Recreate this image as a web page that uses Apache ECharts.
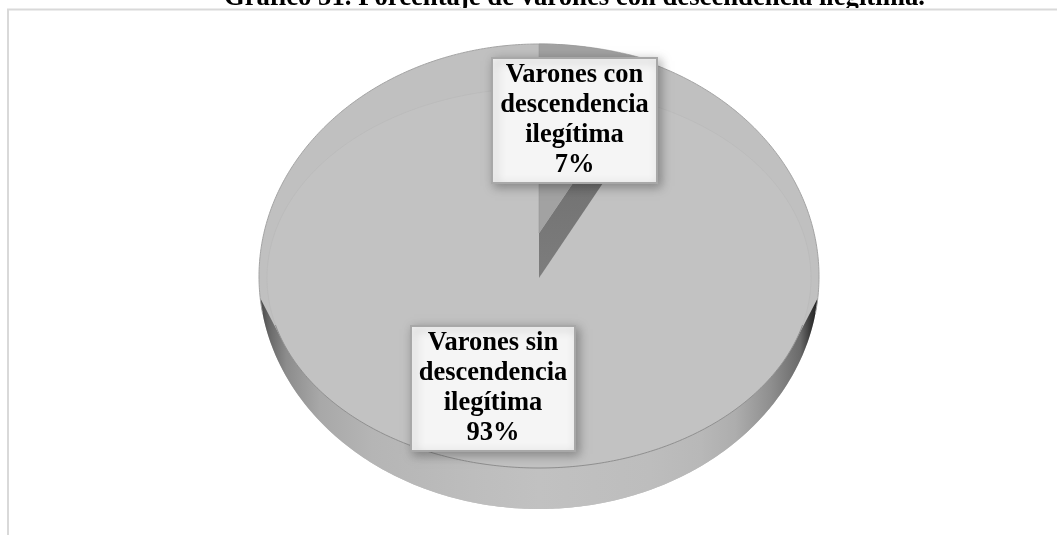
<!DOCTYPE html>
<html><head><meta charset="utf-8">
<style>html,body{margin:0;padding:0;background:#fff}#c{width:1057px;height:535px}</style>
<script src="https://cdn.jsdelivr.net/npm/echarts@6/dist/echarts.min.js"></script>
</head><body><div id="c"></div>
<script>
const chartTitle = 'Gráfico 51. Porcentaje de varones con descendencia ilegítima.';
const categories = ['Varones con\ndescendencia\nilegítima', 'Varones sin\ndescendencia\nilegítima'];
const shares = [7, 93];

const total = shares.reduce((a, b) => a + b, 0);
const endAngle = 2 * Math.PI * shares[0] / total;
const CX = 539;
const outer = {cy: 276.5, rx: 280, ry: 232.5};
const inner = {cy: 278, rx: 272, ry: 190};
const lifted = {cy: 233, rx: 272, ry: 189};
const labelBoxes = [{x: 492, y: 58, w: 165, h: 125}, {x: 411, y: 326, w: 164, h: 125}];

const pt = (e, t) => [CX + e.rx * Math.sin(t), e.cy - e.ry * Math.cos(t)];
function arc(e, a, b) {
  const n = Math.max(2, Math.ceil(Math.abs(b - a) * 90)), out = [];
  for (let i = 0; i <= n; i++) out.push(pt(e, a + (b - a) * i / n));
  return out;
}
const tAtY = (e, y) => Math.acos((e.cy - y) / e.ry);

function wall() {
  const a = tAtY(inner, 340), b = 2 * Math.PI - a;
  const a2 = tAtY(outer, 298), b2 = 2 * Math.PI - a2;
  return {
    type: 'polygon', silent: true,
    shape: {points: arc(inner, a, b).concat(arc(outer, b2, a2))},
    style: {fill: new echarts.graphic.LinearGradient(0, 0, 1, 0, [
      {offset: 0, color: '#484848'}, {offset: 0.016, color: '#686868'}, {offset: 0.047, color: '#8c8c8c'},
      {offset: 0.107, color: '#a8a8a8'}, {offset: 0.2, color: '#b5b5b5'}, {offset: 0.38, color: '#bdbdbd'},
      {offset: 0.5, color: '#c1c1c1'}, {offset: 0.7, color: '#bdbdbd'}, {offset: 0.79, color: '#b8b8b8'},
      {offset: 0.853, color: '#adadad'}, {offset: 0.915, color: '#8f8f8f'}, {offset: 0.969, color: '#6a6a6a'},
      {offset: 0.987, color: '#383838'}, {offset: 1, color: '#202020'}
    ])}
  };
}

function renderItem(params, api) {
  const i = params.dataIndex, kids = [];
  if (i === 0) {
    const a = pt(lifted, endAngle);
    kids.push({type: 'polygon', silent: true,
      shape: {points: [[CX, lifted.cy], a, pt(inner, endAngle), [CX, inner.cy]]},
      style: {fill: new echarts.graphic.LinearGradient(0, 0, 0, 1, [
        {offset: 0, color: '#666'}, {offset: 1, color: '#7d7d7d'}])}});
    kids.push({type: 'polygon', silent: true,
      shape: {points: [[CX, lifted.cy]].concat(arc(lifted, 0, endAngle))},
      style: {fill: '#a2a2a2', stroke: '#979797', lineWidth: 0.6}});
  } else {
    kids.push({type: 'polygon', silent: true,
      shape: {points: [[CX, inner.cy]].concat(arc(outer, endAngle, 2 * Math.PI))},
      style: {fill: '#c0c0c0'}});
    kids.push(wall());
    kids.push({type: 'polygon', silent: true,
      shape: {points: [[CX, inner.cy]].concat(arc(inner, endAngle, 2 * Math.PI))},
      style: {fill: '#c2c2c2'}});
    const s = tAtY(inner, 325);
    kids.push({type: 'polyline', silent: true,
      shape: {points: arc(inner, s, 2 * Math.PI - s)},
      style: {fill: null, stroke: '#8f8f8f', lineWidth: 1}});
    kids.push({type: 'polyline', silent: true,
      shape: {points: arc(inner, -s, s)},
      style: {fill: null, stroke: '#b9b9b9', lineWidth: 0.7}});
    kids.push({type: 'polyline', silent: true,
      shape: {points: arc(outer, -Math.PI * 0.55, Math.PI * 0.55)},
      style: {fill: null, stroke: '#a4a4a4', lineWidth: 1}});
  }
  return {type: 'group', children: kids};
}

function renderLabel(params, api) {
  const i = params.dataIndex, b = labelBoxes[i];
  return {type: 'group', children: [
    {type: 'rect', silent: true, shape: {x: b.x, y: b.y, width: b.w, height: b.h},
     style: {fill: '#f5f5f5', stroke: '#a8a8a8', lineWidth: 2,
             shadowBlur: 10, shadowOffsetX: 3, shadowOffsetY: 3, shadowColor: 'rgba(0,0,0,0.3)'}},
    {type: 'text', silent: true,
     style: {text: categories[i] + '\n' + api.value(0) + '%',
             x: b.x + b.w / 2, y: b.y + b.h / 2, align: 'center', verticalAlign: 'middle',
             font: 'bold 26.5px "Liberation Serif"', lineHeight: 30, fill: '#000'}}
  ]};
}

const values = shares.map(v => [v]);
const chart = echarts.init(document.getElementById('c'), null, {renderer: 'canvas'});
chart.setOption({
  animation: false,
  backgroundColor: '#fff',
  title: {text: chartTitle, left: 219, top: -20,
    textStyle: {fontFamily: 'Liberation Serif', fontWeight: 'bold', fontSize: 26.7, color: '#000'}},
  graphic: [
    {type: 'rect', z: 50, shape: {x: 0, y: 8, width: 1057, height: 3}, style: {fill: '#fff'}},
    {type: 'line', z: 51, shape: {x1: 7, y1: 9.5, x2: 1057, y2: 9.5}, style: {stroke: '#d9d9d9', lineWidth: 2}},
    {type: 'line', z: 51, shape: {x1: 8, y1: 9, x2: 8, y2: 535}, style: {stroke: '#d9d9d9', lineWidth: 2}}
  ],
  series: [
    {type: 'custom', coordinateSystem: 'none', data: values.slice().reverse(), silent: true, z: 2,
     renderItem: (p, a) => renderItem({dataIndex: shares.length - 1 - p.dataIndex}, a)},
    {type: 'custom', coordinateSystem: 'none', renderItem: renderLabel, data: values, silent: true, z: 3}
  ]
});
</script></body></html>
